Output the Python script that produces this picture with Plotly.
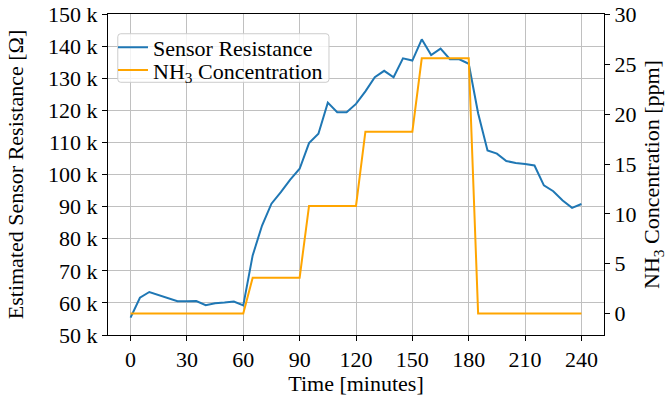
import plotly.graph_objects as go

time_min = list(range(0, 245, 5))
resistance_ohm = [55400, 61600, 63400, 62400, 61600, 60500, 60500, 60600, 59300, 59900,
                  60100, 60400, 59200, 74800, 84100, 90900, 94500, 98400, 101800, 109800,
                  112700, 122400, 119400, 119400, 122000, 125900, 130300, 132300, 130300, 136200,
                  135500, 142100, 137200, 139200, 135900, 135900, 134500, 119100, 107500, 106500,
                  104200, 103600, 103300, 102800, 96600, 94800, 91900, 89600, 90800]
nh3_ppm = [0, 0, 0, 0, 0, 0, 0, 0, 0, 0, 0, 0, 0,
           3.6, 3.6, 3.6, 3.6, 3.6, 3.6,
           10.8, 10.8, 10.8, 10.8, 10.8, 10.8,
           18.25, 18.25, 18.25, 18.25, 18.25, 18.25,
           25.6, 25.6, 25.6, 25.6, 25.6, 25.6,
           0, 0, 0, 0, 0, 0, 0, 0, 0, 0, 0, 0]

x_ticks = [0, 30, 60, 90, 120, 150, 180, 210, 240]
left_tick_vals = [50000, 60000, 70000, 80000, 90000, 100000, 110000, 120000, 130000, 140000, 150000]
left_tick_text = ["50 k", "60 k", "70 k", "80 k", "90 k", "100 k", "110 k", "120 k", "130 k", "140 k", "150 k"]
right_ticks = [0, 5, 10, 15, 20, 25, 30]

FONT = "Liberation Serif"
FS = 22

# plot area in pixels
L, R, T, B = 107.5, 604, 13.5, 335.5
PW, PH = R - L, B - T


def px_x(x):
    return (x - L) / PW


def px_y(y):
    return (B - y) / PH


def rounded_box(x0, y0, x1, y1, r=3):
    rx, ry = r / PW, r / PH
    X0, X1 = px_x(x0), px_x(x1)
    Y0, Y1 = px_y(y0), px_y(y1)  # Y0 top, Y1 bottom
    return (f"M {X0+rx},{Y0} L {X1-rx},{Y0} Q {X1},{Y0} {X1},{Y0-ry} "
            f"L {X1},{Y1+ry} Q {X1},{Y1} {X1-rx},{Y1} "
            f"L {X0+rx},{Y1} Q {X0},{Y1} {X0},{Y1+ry} "
            f"L {X0},{Y0-ry} Q {X0},{Y0} {X0+rx},{Y0} Z")


fig = go.Figure()
fig.add_trace(go.Scatter(x=time_min, y=resistance_ohm, mode="lines", name="Sensor Resistance",
                         line=dict(color="#1f77b4", width=2), yaxis="y", legend="legend"))
fig.add_trace(go.Scatter(x=time_min, y=nh3_ppm, mode="lines", name="NH<sub>3</sub> Concentration",
                         line=dict(color="#FFA500", width=2), yaxis="y2", legend="legend2"))

legend_common = dict(xanchor="left", yanchor="middle", bgcolor="rgba(0,0,0,0)",
                     borderwidth=0, font=dict(family=FONT, size=FS), itemwidth=30)

fig.update_layout(
    width=671, height=396,
    margin=dict(l=L, r=671 - R, t=T, b=396 - B, autoexpand=False),
    paper_bgcolor="white", plot_bgcolor="white",
    font=dict(family=FONT, size=FS, color="black"),
    showlegend=True,
    legend=dict(x=px_x(112.5), y=px_y(47), **legend_common),
    legend2=dict(x=px_x(112.5), y=px_y(70), **legend_common),
    shapes=[dict(type="path", xref="paper", yref="paper", layer="above",
                 path=rounded_box(117.3, 33.3, 328.7, 82),
                 fillcolor="rgba(255,255,255,0.8)", line=dict(color="#cccccc", width=1))],
    xaxis=dict(range=[-12, 252], tickvals=x_ticks, ticks="outside", ticklen=5, tickwidth=1,
               tickcolor="black", showline=True, linecolor="black", linewidth=1, mirror=True,
               showgrid=True, gridcolor="#c0c0c0", gridwidth=1, zeroline=False,
               tickfont=dict(size=FS),
               title=dict(text="Time [minutes]", standoff=2, font=dict(size=FS)),
               automargin=False),
    yaxis=dict(range=[50000, 150000], tickvals=left_tick_vals, ticktext=left_tick_text,
               ticks="outside", ticklen=5, tickwidth=1, tickcolor="black",
               showline=True, linecolor="black", linewidth=1,
               showgrid=True, gridcolor="#c0c0c0", gridwidth=1, zeroline=False,
               tickfont=dict(size=FS),
               title=dict(text="Estimated Sensor Resistance [Ω]", standoff=18, font=dict(size=FS)),
               automargin=False),
    yaxis2=dict(range=[-2.15, 30.05], tickvals=right_ticks, overlaying="y", side="right",
                ticks="outside", ticklen=5, tickwidth=1, tickcolor="black",
                showline=True, linecolor="black", linewidth=1,
                showgrid=False, zeroline=False,
                tickfont=dict(size=FS),
                title=dict(text="NH<sub>3</sub> Concentration [ppm]", standoff=8, font=dict(size=FS)),
                automargin=False),
)

fig.write_html("out.html")
